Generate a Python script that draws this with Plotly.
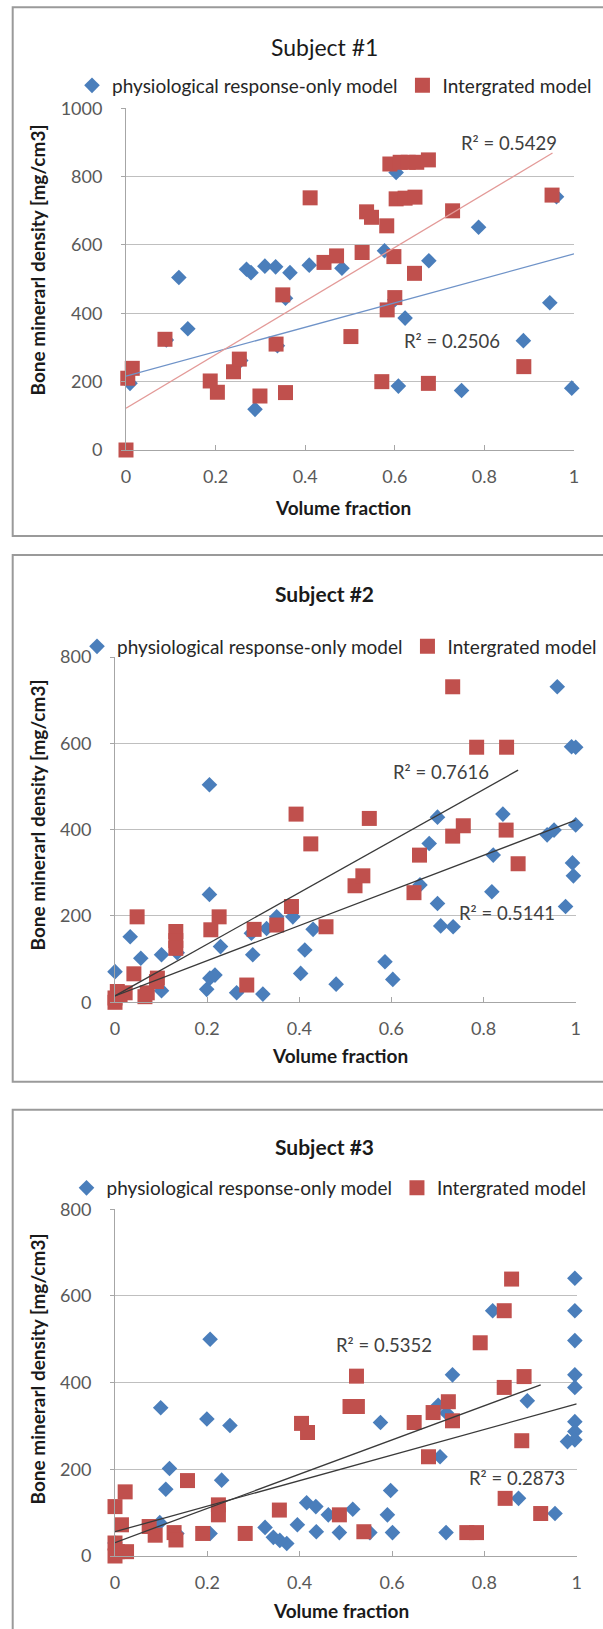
import plotly.graph_objects as go

W, H = 603, 1629
FONT = "Lato"

# ---------------- data ----------------
titles = ["Subject #1", "Subject #2", "Subject #3"]
series_names = ["physiological response-only model", "Intergrated model"]
x_tick_vals = [0, 0.2, 0.4, 0.6, 0.8, 1]
x_tick_text = ["0", "0.2", "0.4", "0.6", "0.8", "1"]
y_max = [1000, 800, 800]

p1_phys_x = [0.009, 0.118, 0.138, 0.269, 0.279, 0.310, 0.334, 0.366, 0.409, 0.482, 0.288, 0.356,
             0.603, 0.577, 0.676, 0.787, 0.946, 0.887, 0.623, 0.608, 0.749, 0.995, 0.961,
             0.338, 0.256, 0.600, 0.090]
p1_phys_y = [195, 505, 355, 529, 519, 538, 536, 519, 541, 532, 119, 444,
             812, 583, 554, 652, 431, 320, 386, 187, 174, 181, 741,
             305, 262, 440, 322]
p1_int_x = [0.0, 0.004, 0.014, 0.087, 0.188, 0.204, 0.240, 0.253, 0.299, 0.335, 0.350, 0.356,
            0.411, 0.442, 0.470, 0.502, 0.527, 0.537, 0.548, 0.582, 0.598, 0.600, 0.583, 0.644,
            0.729, 0.951, 0.888, 0.571, 0.675, 0.589, 0.612, 0.630, 0.649, 0.675, 0.603, 0.623, 0.645]
p1_int_y = [0, 210, 239, 324, 202, 169, 229, 266, 158, 310, 454, 168,
            738, 549, 568, 332, 578, 697, 681, 656, 566, 446, 410, 517,
            700, 746, 244, 200, 195, 837, 842, 842, 842, 849, 735, 737, 740]

p2_phys_x = [0.0, 0.033, 0.056, 0.101, 0.101, 0.205, 0.205, 0.199, 0.206, 0.217, 0.229, 0.264,
             0.299, 0.321, 0.296, 0.329, 0.351, 0.386, 0.430, 0.412, 0.403, 0.480, 0.135, 0.586,
             0.603, 0.700, 0.682, 0.662, 0.700, 0.707, 0.734, 0.842, 0.821, 0.818, 0.960, 0.991,
             1.0, 0.938, 0.953, 1.0, 0.993, 0.995, 0.978]
p2_phys_y = [71, 152, 102, 110, 27, 504, 250, 30, 56, 63, 129, 22,
             110, 19, 160, 171, 198, 198, 169, 121, 67, 42, 115, 94,
             53, 429, 368, 272, 229, 177, 175, 436, 341, 256, 731, 592,
             591, 388, 399, 411, 323, 293, 222]
p2_int_x = [0.048, 0.041, 0.132, 0.132, 0.132, 0.092, 0.090, 0.065, 0.070, 0.0, 0.011, 0.022,
            0.0, 0.005, 0.208, 0.226, 0.286, 0.302, 0.351, 0.383, 0.393, 0.425, 0.458, 0.521,
            0.538, 0.552, 0.661, 0.649, 0.733, 0.756, 0.733, 0.785, 0.850, 0.849, 0.875]
p2_int_y = [198, 66, 164, 143, 125, 56, 48, 13, 22, 0, 17, 22,
            10, 25, 168, 198, 40, 169, 179, 222, 436, 367, 175, 270,
            293, 426, 341, 254, 385, 409, 731, 591, 591, 399, 321]

p3_phys_x = [0.206, 0.099, 0.199, 0.249, 0.118, 0.110, 0.231, 0.097, 0.206, 0.134, 0.325, 0.343,
             0.372, 0.357, 0.395, 0.415, 0.435, 0.436, 0.462, 0.486, 0.515, 0.0, 0.575, 0.597,
             0.590, 0.601, 0.552, 0.717, 0.731, 0.700, 0.718, 0.704, 0.818, 0.893, 0.874, 0.953,
             0.996, 0.996, 0.996, 0.996, 0.996, 0.996, 0.996, 0.996, 0.980]
p3_phys_y = [500, 342, 316, 301, 202, 154, 175, 77, 52, 52, 66, 43,
             29, 36, 72, 123, 114, 56, 95, 54, 108, 30, 308, 151,
             95, 54, 54, 54, 418, 348, 330, 229, 566, 358, 133, 98,
             641, 566, 497, 418, 389, 310, 287, 268, 264]
p3_int_x = [0.0, 0.022, 0.014, 0.0, 0.005, 0.025, 0.0, 0.074, 0.087, 0.128, 0.132, 0.157,
            0.190, 0.224, 0.224, 0.282, 0.356, 0.404, 0.417, 0.486, 0.523, 0.509, 0.525, 0.539,
            0.648, 0.679, 0.689, 0.722, 0.731, 0.762, 0.783, 0.791, 0.843, 0.859, 0.843, 0.886,
            0.881, 0.845, 0.922]
p3_int_y = [114, 148, 72, 30, 10, 10, 0, 68, 48, 54, 37, 174,
            52, 118, 95, 52, 106, 306, 285, 95, 415, 345, 345, 56,
            308, 229, 331, 356, 312, 54, 54, 492, 566, 639, 389, 414,
            266, 133, 98]

# trendline end points
p1_trend_phys_x = [0, 1.0]
p1_trend_phys_y = [216, 574]
p1_trend_int_x = [0, 0.952]
p1_trend_int_y = [122, 869]
p2_trend_a_x = [0, 0.875]
p2_trend_a_y = [15, 538]
p2_trend_b_x = [0, 1.0]
p2_trend_b_y = [15, 422]
p3_trend_a_x = [0, 0.922]
p3_trend_a_y = [31, 395]
p3_trend_b_x = [0, 1.0]
p3_trend_b_y = [56, 351]

r2_labels = [["R² = 0.5429", "R² = 0.2506"], ["R² = 0.7616", "R² = 0.5141"], ["R² = 0.5352", "R² = 0.2873"]]
r2_pos = [[(0.855, 899), (0.727, 320)], [(0.707, 534), (0.850, 206)], [(0.582, 487), (0.870, 179)]]

# ---------------- layout geometry (pixels) ----------------
plot_px = [  # x0, x1, ytop, ybottom
    (126, 574, 108.3, 450),
    (115, 575.7, 657, 1002.3),
    (115, 576.7, 1209.3, 1556),
]
box_px = [(12.7, 7.3, 640, 536), (12.7, 555, 640, 1081.7), (12.7, 1109.8, 640, 1640)]
title_y = [46.7, 593, 1146.5]
legend_pos = [(72, 85.5), (77, 646.5), (66.5, 1188)]
ytitle_y = [260, 815, 1369]
xtitle_pos = [(343, 507.7), (340, 1055.5), (341, 1610.5)]

BLUE = "#4a7ebb"
RED = "#c0504d"
GRID = "#bfbfbf"
AXIS = "#a6a6a6"

fig = go.Figure()

phys = [(p1_phys_x, p1_phys_y), (p2_phys_x, p2_phys_y), (p3_phys_x, p3_phys_y)]
integ = [(p1_int_x, p1_int_y), (p2_int_x, p2_int_y), (p3_int_x, p3_int_y)]
trends = [
    [(p1_trend_phys_x, p1_trend_phys_y, "#6f93c8"), (p1_trend_int_x, p1_trend_int_y, "#e39a98")],
    [(p2_trend_a_x, p2_trend_a_y, "#3a3a3a"), (p2_trend_b_x, p2_trend_b_y, "#3a3a3a")],
    [(p3_trend_a_x, p3_trend_a_y, "#3a3a3a"), (p3_trend_b_x, p3_trend_b_y, "#3a3a3a")],
]

annotations = []
shapes = []
for i in range(3):
    sfx = "" if i == 0 else str(i + 1)
    xa, ya = "x" + sfx, "y" + sfx
    leg = "legend" + sfx
    fig.add_trace(go.Scatter(
        x=phys[i][0], y=phys[i][1], mode="markers", name=series_names[0],
        marker=dict(symbol="diamond", size=12, color=BLUE, line=dict(width=0)),
        xaxis=xa, yaxis=ya, legend=leg, cliponaxis=False))
    fig.add_trace(go.Scatter(
        x=integ[i][0], y=integ[i][1], mode="markers", name=series_names[1],
        marker=dict(symbol="square", size=15, color=RED, line=dict(width=0)),
        xaxis=xa, yaxis=ya, legend=leg, cliponaxis=False))
    for tx, ty, col in trends[i]:
        fig.add_trace(go.Scatter(
            x=tx, y=ty, mode="lines", line=dict(color=col, width=1.3),
            showlegend=False, xaxis=xa, yaxis=ya, hoverinfo="skip"))

    x0, x1, yt, yb = plot_px[i]
    fig.layout["xaxis" + sfx] = dict(
        domain=[x0 / W, x1 / W], anchor=ya, range=[0, 1], automargin=False,
        tickvals=x_tick_vals, ticktext=x_tick_text,
        showgrid=False, zeroline=False, showline=True, linecolor=AXIS, linewidth=1,
        ticks="inside", ticklen=5, tickcolor=AXIS, ticklabelstandoff=10,
        tickfont=dict(family=FONT, size=18, color="#595959"),
        fixedrange=True)
    fig.layout["yaxis" + sfx] = dict(
        domain=[1 - yb / H, 1 - yt / H], anchor=xa, range=[0, y_max[i]], dtick=200,
        automargin=False,
        showgrid=True, gridcolor=GRID, gridwidth=1, zeroline=False,
        showline=True, linecolor=AXIS, linewidth=1,
        ticks="outside", ticklen=4, tickcolor=AXIS, ticklabelstandoff=15,
        tickfont=dict(family=FONT, size=18, color="#595959"),
        fixedrange=True)

    lx, ly = legend_pos[i]
    fig.layout[leg] = dict(
        orientation="h", x=lx / W, y=1 - ly / H, xanchor="left", yanchor="middle",
        xref="container", yref="container", bgcolor="rgba(0,0,0,0)",
        font=dict(family=FONT, size=19, color="#262626"),
        itemwidth=30, tracegroupgap=0)

    annotations.append(dict(
        text=titles[i], x=324 / W, y=1 - title_y[i] / H, xref="paper", yref="paper",
        showarrow=False, xanchor="center", yanchor="middle",
        font=dict(family=FONT, size=23 if i == 0 else 21, color="#1a1a1a",
                  weight="normal" if i == 0 else "bold")))
    annotations.append(dict(
        text="Bone minerarl density [mg/cm3]", x=36.5 / W, y=1 - ytitle_y[i] / H,
        xref="paper", yref="paper", showarrow=False, textangle=-90,
        xanchor="center", yanchor="middle",
        font=dict(family=FONT, size=19, color="#1a1a1a", weight="bold")))
    tx_, ty_ = xtitle_pos[i]
    annotations.append(dict(
        text="Volume fraction", x=tx_ / W, y=1 - ty_ / H,
        xref="paper", yref="paper", showarrow=False,
        xanchor="center", yanchor="middle",
        font=dict(family=FONT, size=19, color="#1a1a1a", weight="bold")))
    for lab, (rx, ry) in zip(r2_labels[i], r2_pos[i]):
        annotations.append(dict(
            text=lab, x=rx, y=ry, xref=xa, yref=ya, showarrow=False,
            xanchor="center", yanchor="middle",
            font=dict(family=FONT, size=18.5, color="#404040")))

    bx0, by0, bx1, by1 = box_px[i]
    shapes.append(dict(type="rect", xref="paper", yref="paper",
                       x0=bx0 / W, x1=bx1 / W, y0=1 - by1 / H, y1=1 - by0 / H,
                       line=dict(color="#9a9a9a", width=2), fillcolor="rgba(0,0,0,0)",
                       layer="below"))

fig.update_layout(
    width=W, height=H, margin=dict(l=0, r=0, t=0, b=0, autoexpand=False),
    paper_bgcolor="white", plot_bgcolor="white",
    annotations=annotations, shapes=shapes,
    font=dict(family=FONT, color="#262626"),
)

fig.write_html(
    "out.html",
    config={"displayModeBar": False},
    post_script="document.documentElement.style.margin='0';"
                "document.body.style.margin='0';document.body.style.overflow='hidden';",
)
